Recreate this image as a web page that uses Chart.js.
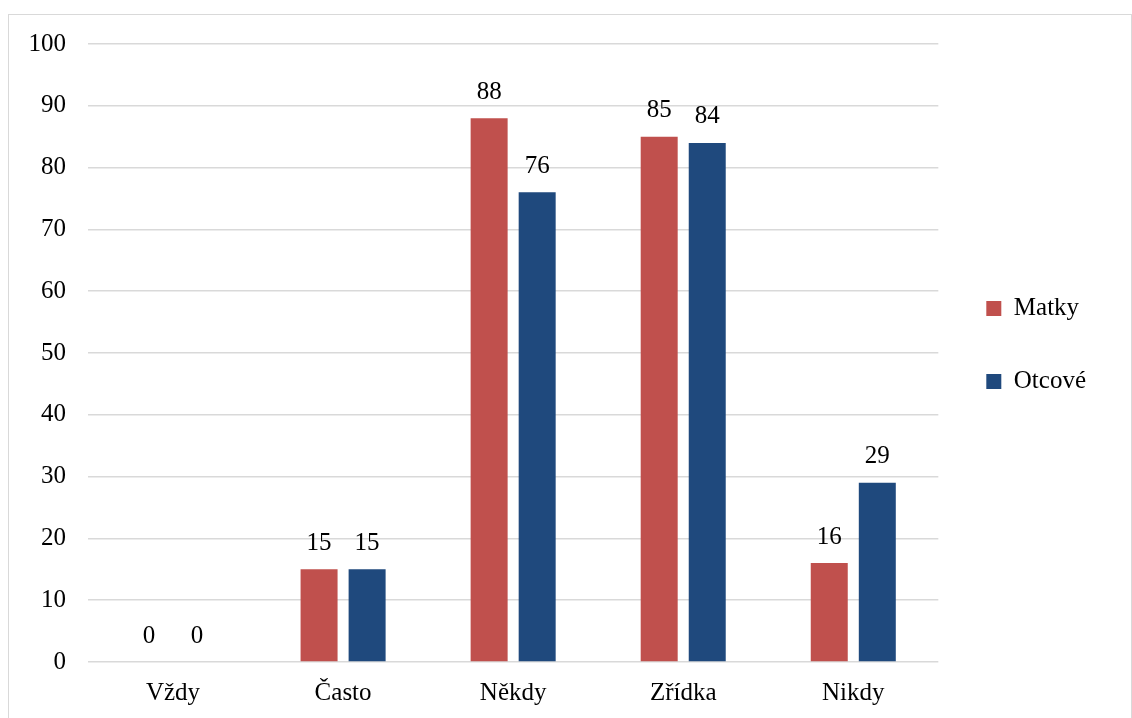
<!DOCTYPE html>
<html>
<head>
<meta charset="utf-8">
<script src="https://cdn.jsdelivr.net/npm/chart.js@4/dist/chart.umd.min.js"></script>
<style>
  html, body { margin: 0; padding: 0; background: #fff; overflow: hidden; }
  #frame { position: absolute; left: 8px; top: 14px; width: 1122px; height: 720px; border: 1px solid #d9d9d9; }
  #wrap { position: absolute; left: 0; top: 0; width: 1132px; height: 718px; }
</style>
</head>
<body>
<div id="frame"></div>
<div id="wrap"><canvas id="myChart"></canvas></div>
<script>
var categories = ['Vždy', 'Často', 'Někdy', 'Zřídka', 'Nikdy'];
var matky = [0, 15, 88, 85, 16];
var otcove = [0, 15, 76, 84, 29];
var seriesNames = ['Matky', 'Otcové'];
var seriesColors = ['#C0504D', '#1F497D'];

Chart.defaults.font.family = '"Liberation Serif", "Times New Roman", serif';
Chart.defaults.color = '#000';

// popisky hodnot nad sloupci
var valueLabels = {
  id: 'valueLabels',
  afterDatasetsDraw: function (chart) {
    var ctx = chart.ctx;
    ctx.save();
    ctx.font = '25px "Liberation Serif"';
    ctx.fillStyle = '#000';
    ctx.textAlign = 'center';
    ctx.textBaseline = 'middle';
    chart.data.datasets.forEach(function (ds, i) {
      chart.getDatasetMeta(i).data.forEach(function (bar, j) {
        ctx.fillText(ds.data[j], bar.x, bar.y - 26);
      });
    });
    ctx.restore();
  }
};

new Chart(document.getElementById('myChart'), {
  type: 'bar',
  data: {
    labels: categories,
    datasets: [
      { label: seriesNames[0], data: matky, backgroundColor: seriesColors[0], borderWidth: 0 },
      { label: seriesNames[1], data: otcove, backgroundColor: seriesColors[1], borderWidth: 0 }
    ]
  },
  options: {
    responsive: true,
    maintainAspectRatio: false,
    animation: false,
    categoryPercentage: 0.565,
    barPercentage: 0.77,
    layout: { padding: { left: 8, top: 44, right: 36, bottom: 0 } },
    scales: {
      x: {
        grid: { display: false },
        border: { display: false },
        ticks: { font: { size: 25 }, padding: 8, color: '#000' },
        afterFit: function (scale) { scale.height = 56; }
      },
      y: {
        min: 0,
        max: 100,
        ticks: { stepSize: 10, font: { size: 25 }, padding: 22, color: '#000' },
        grid: { color: '#d9d9d9', lineWidth: 1.5, drawTicks: false },
        border: { display: false },
        afterFit: function (scale) { scale.width = 80; }
      }
    },
    plugins: {
      legend: {
        position: 'right',
        align: 'start',
        title: { display: true, text: ' ', font: { size: 10 }, padding: { top: 96, bottom: 96 } },
        labels: {
          boxWidth: 15,
          boxHeight: 15,
          padding: 48,
          font: { size: 25 },
          color: '#000'
        }
      },
      tooltip: { enabled: false }
    }
  },
  plugins: [valueLabels]
});
</script>
</body>
</html>
